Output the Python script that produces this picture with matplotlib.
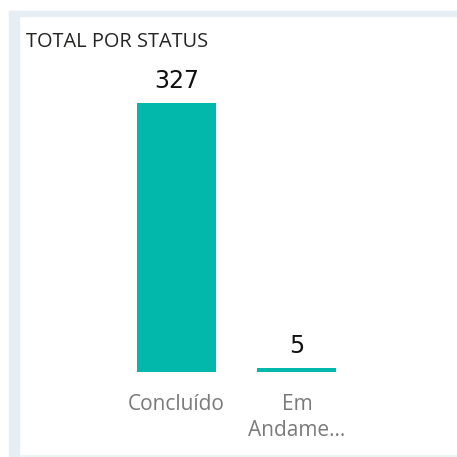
import matplotlib
matplotlib.use("Agg")
import matplotlib.pyplot as plt
from matplotlib.patches import Rectangle

# data
status = ["Concluído", "Em\nAndame..."]
total = [327, 5]

bar_color = "#01b8aa"
panel_color = "#e6edf3"

W = H = 457
fig = plt.figure(figsize=(W / 100, H / 100), dpi=100)
fig.patch.set_facecolor("white")

# panel frame (left strip + top strip)
fig.patches.append(Rectangle((9 / W, 0), 10 / W, 446 / H, transform=fig.transFigure,
                             color=panel_color, zorder=0))
fig.patches.append(Rectangle((9 / W, 441 / H), 448 / W, 5 / H, transform=fig.transFigure,
                             color=panel_color, zorder=0))
fig.patches.append(Rectangle((19 / W, 0), 438 / W, 2 / H, transform=fig.transFigure,
                             color="#eef3f3", zorder=0))

fig.text(26 / W, 1 - 42 / H, "TOTAL POR STATUS", ha="left", va="center",
         fontsize=14.4, color="#252423", family="Open Sans")

ax = fig.add_axes([20 / W, 85 / H, 437 / W, 269 / H])
ax.set_facecolor("none")
x = list(range(len(status)))
bars = ax.bar(x, total, width=0.656, color=bar_color)
ax.set_xlim(-1.30, 2.33)
ax.set_ylim(0, 327)

for b, v in zip(bars, total):
    ax.annotate(str(v), (b.get_x() + b.get_width() / 2, v), xytext=(0, 7),
                textcoords="offset points", ha="center", va="bottom",
                fontsize=17, color="#111111", family="DejaVu Sans", clip_on=False)

ax.set_xticks(x)
ax.set_xticklabels(status, fontsize=15, color="#7a7a7a", family="Open Sans",
                   linespacing=1.3)
ax.tick_params(axis="x", length=0, pad=16)
ax.set_yticks([])
for s in ax.spines.values():
    s.set_visible(False)

fig.savefig("out.png", dpi=100)
